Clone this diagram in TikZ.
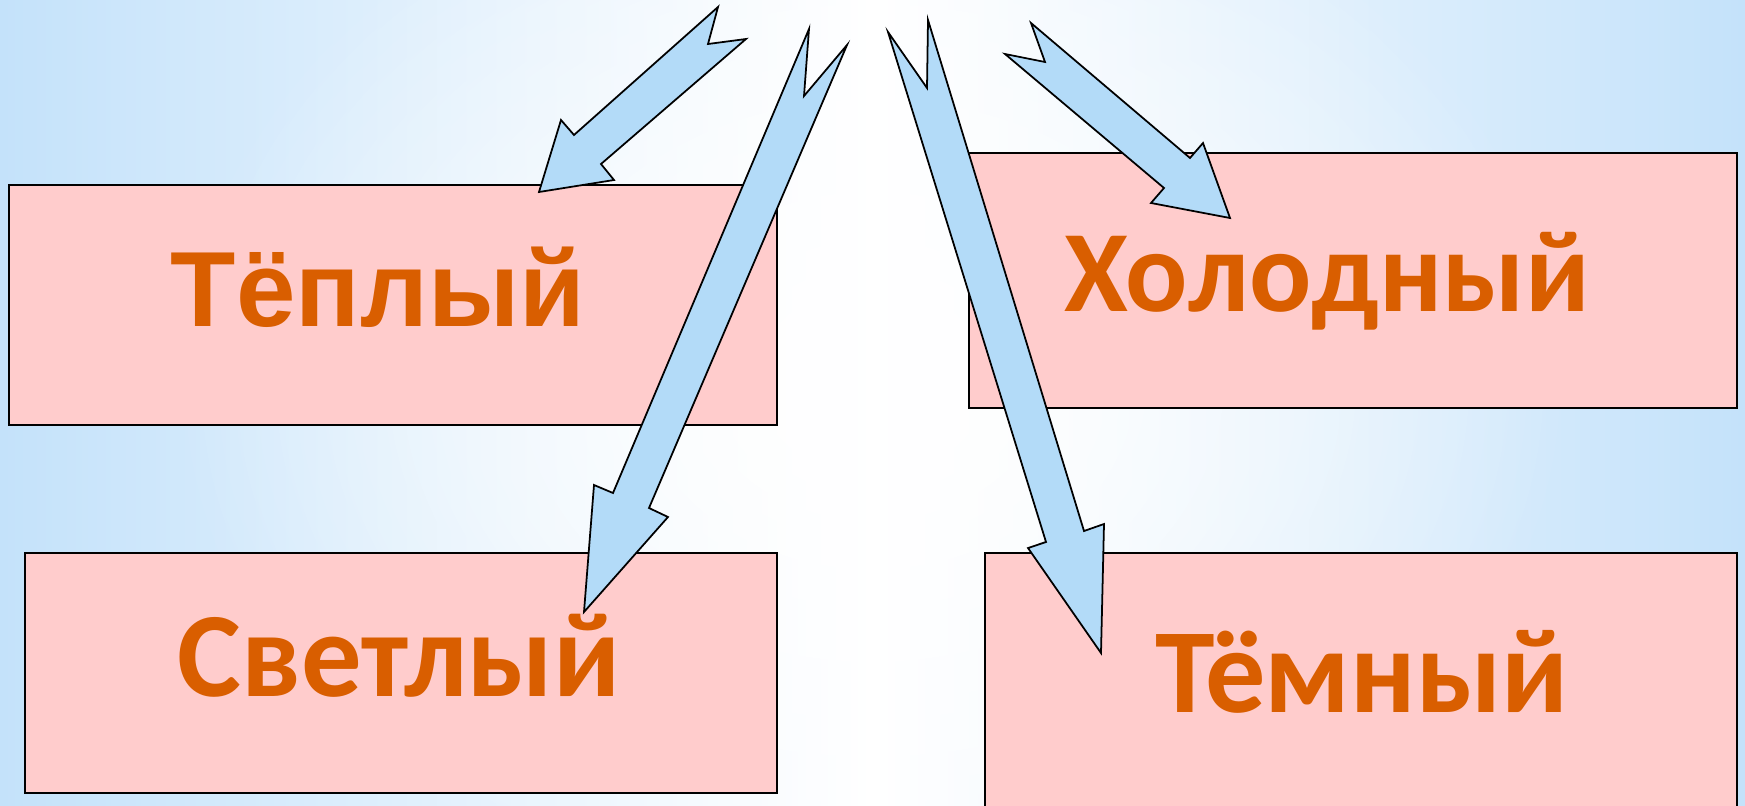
\documentclass[tikz,border=0pt]{standalone}
\usepackage{fontspec}
\setmainfont{Carlito}
\newfontfamily\warmfont{Liberation Sans}
\usetikzlibrary{positioning,fadings}
\definecolor{skyblue}{HTML}{C4E2FA}
\definecolor{boxpink}{HTML}{FFCCCC}
\definecolor{arrowblue}{HTML}{B3DBF8}
\definecolor{wordorange}{HTML}{D95E00}
\tikzfading[name=midband,top color=transparent!100,middle color=transparent!0,bottom color=transparent!100]
\tikzfading[name=glow,inner color=transparent!0,outer color=transparent!100]

\begin{document}
\begin{tikzpicture}[x=0.01cm,y=-0.01cm,
		box/.style={draw=black,line width=0.6pt,fill=boxpink},
		word/.style={anchor=base,text=wordorange,font=\bfseries\fontsize{33}{33}\selectfont,inner sep=0pt},
		blockarrow/.style={draw=black,line width=0.5pt,fill=arrowblue,line join=miter}]
			% sky background
			\useasboundingbox (0,0) rectangle (1745,806);
			\shade[left color=skyblue,right color=skyblue,middle color=white] (0,0) rectangle (1745,806);
			\fill[white,path fading=glow] (872,380) ellipse (700 and 560);
			\fill[skyblue,opacity=0.6,path fading=midband] (0,430) rectangle (1745,560);
			\fill[skyblue,opacity=0.7,path fading=midband] (0,560) rectangle (120,806);
			% boxes
			\draw[box] (9,185) rectangle (777,425) coordinate (warm);
			\draw[box] (969,153) rectangle (1737,408) coordinate (cold);
			\draw[box] (25,553) rectangle (777,793) coordinate (light);
			\draw[box] (985,553) rectangle (1737,830) coordinate (dark);
			% words
			\node[word,font=\warmfont\bfseries\fontsize{30.4}{30.4}\selectfont] (tw) at (378,326) {Тёплый};
			\node[word] (cw) at (1327,311) {Холодный};
			\node[word,font=\bfseries\fontsize{34.3}{34.3}\selectfont] (lw) at (399,696) {Светлый};
			\node[word,font=\bfseries\fontsize{34.2}{34.2}\selectfont] (dw) at (1362,712) {Тёмный};
			% arrows
			\draw[blockarrow] (718,7)--(708,44)--(746,39)--(601,164)--(614,180)--(539,192)--(561,120)--(574,135)--cycle;
			\draw[blockarrow] (809,29)--(804,96)--(847,45)--(649,508)--(668,517)--(584,612)--(594,485)--(613,493)--cycle;
			\draw[blockarrow] (888,32)--(927,88)--(928,20)--(1084,531)--(1104,524)--(1101,653)--(1028,548)--(1046,542)--cycle;
			\draw[blockarrow] (1031,23)--(1190,158)--(1203,143)--(1230,218)--(1151,203)--(1164,188)--(1005,54)--(1045,62)--cycle;
		\end{tikzpicture}
\end{document}
